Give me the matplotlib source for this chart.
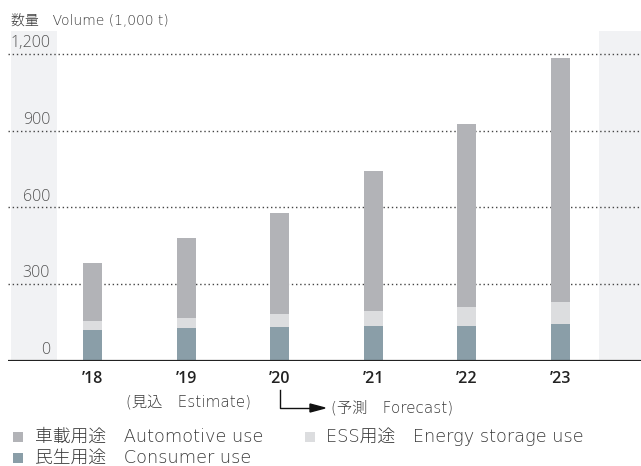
import numpy as np
import matplotlib
matplotlib.use("Agg")
import matplotlib.pyplot as plt
from matplotlib.patches import Rectangle
from matplotlib.lines import Line2D

plt.rcParams['font.family'] = ['Open Sans', 'Noto Sans CJK JP', 'DejaVu Sans']
wide = ['DejaVu Sans', 'Noto Sans CJK JP']

# data (1,000 t)
years = ['\u201918', '\u201919', '\u201920', '\u201921', '\u201922', '\u201923']
consumer = [121, 129, 133, 137, 137, 144]
ess = [35, 39, 50, 58, 74, 86]
automotive = [226, 312, 394, 547, 714, 952]
yticks = [0, 300, 600, 900, 1200]
ytick_labels = ['0', '300', '600', '900', '1,200']

c_auto = '#b2b3b7'
c_ess = '#dcdddf'
c_cons = '#8a9ea8'
band = '#f1f2f4'
txt = '#3a3a3a'

W, H = 641, 466
fig = plt.figure(figsize=(W / 100, H / 100), dpi=100)


def fx(x):
    return x / W


def fy(y):
    return 1 - y / H


# axes box in pixels: x 8..641, y 31..361
ax = fig.add_axes([fx(8), fy(361), fx(641 - 8), (361 - 31) / H])
x = np.arange(len(years))
ax.set_xlim(-0.903, 5.86)
ax.set_ylim(0, 1289)

ax.axvspan(-0.87, -0.38, color=band, zorder=0, lw=0)
ax.axvspan(5.41, 5.86, color=band, zorder=0, lw=0)

for v in yticks[1:]:
    ax.axhline(v, color='#444444', lw=1.0, ls=(0, (1, 2)), zorder=1)

w = 0.203
ax.bar(x, consumer, w, color=c_cons, zorder=2, lw=0)
ax.bar(x, ess, w, bottom=consumer, color=c_ess, zorder=2, lw=0)
bot = np.array(consumer) + np.array(ess)
ax.bar(x, automotive, w, bottom=bot, color=c_auto, zorder=2, lw=0)

ax.axhline(0, color='#222222', lw=1.6, zorder=3)

for s in ax.spines.values():
    s.set_visible(False)
ax.set_yticks([])
ax.set_xticks(x, years)
ax.tick_params(axis='x', length=0, pad=7, labelsize=11.5, labelcolor='#222222')
for t in ax.get_xticklabels():
    t.set_fontweight('semibold')

# y labels sit above the dotted lines
for v, lab in zip(yticks, ytick_labels):
    ax.annotate(lab, xy=((50 - 8) / (641 - 8), v), xycoords=ax.get_yaxis_transform(),
                xytext=(0, 2), textcoords='offset points', ha='right', va='bottom',
                fontsize=11.5, color='#555555', fontweight='light')

fig.text(fx(11), fy(21), '数量\u3000Volume (1,000 t)', fontsize=10, color=txt,
         ha='left', va='center', family=wide, fontweight='light')

fig.text(fx(188), fy(402), '(見込\u3000Estimate)', fontsize=11, color=txt,
         ha='center', va='center', family=wide, fontweight='light')
fig.text(fx(331), fy(408), '(予測\u3000Forecast)', fontsize=11, color=txt,
         ha='left', va='center', family=wide, fontweight='light')

# bent arrow from '20 into forecast
fig.add_artist(Line2D([fx(280), fx(280), fx(312)], [fy(390), fy(408), fy(408)],
                      color='#111111', lw=1.0, transform=fig.transFigure))
fig.add_artist(plt.Polygon([[fx(310), fy(404)], [fx(325), fy(408)], [fx(310), fy(412)]],
                           closed=True, color='#111111', transform=fig.transFigure))

# legend
legend_items = [
    (13, 437, c_auto, '車載用途\u3000Automotive use', 35),
    (305, 437, c_ess, 'ESS用途\u3000Energy storage use', 326),
    (13, 458, c_cons, '民生用途\u3000Consumer use', 35),
]
for sx, sy, col, lab, tx in legend_items:
    fig.add_artist(Rectangle((fx(sx), fy(sy + 5)), fx(10), 10 / H, color=col,
                             transform=fig.transFigure, lw=0))
    fig.text(fx(tx), fy(sy), lab, fontsize=12.8, color=txt, ha='left', va='center',
             family=wide, fontweight='light')

fig.savefig('out.png', dpi=100)
